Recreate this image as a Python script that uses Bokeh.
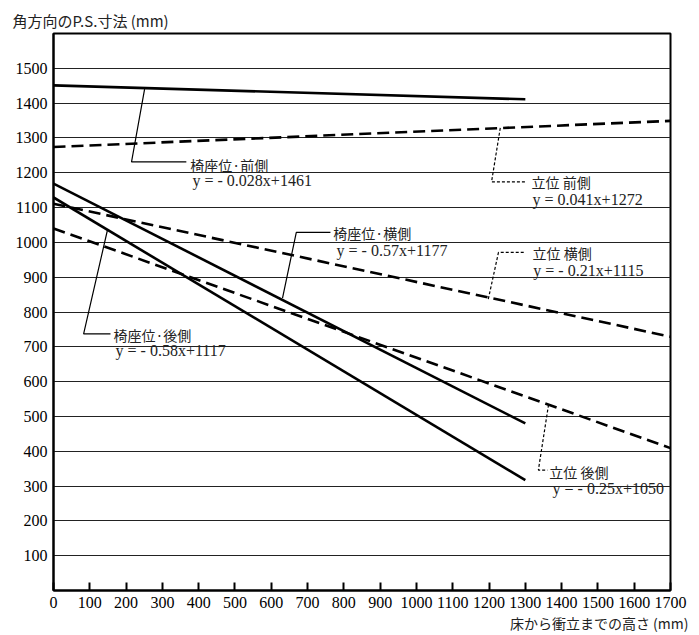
from bokeh.plotting import figure
from bokeh.models import Range1d, FixedTicker, Title, LinearAxis
from bokeh.core.properties import value
from bokeh.embed import file_html
from bokeh.resources import INLINE

# ---- data ----
x_sit = [0, 1300]
sit_front = [1451, 1411]
sit_side = [1169, 480]
sit_back = [1129, 317]

x_stand = [0, 1700]
stand_front = [1274, 1349]
stand_side = [1111, 729]
stand_back = [1040, 409]

x_ticks = [0, 100, 200, 300, 400, 500, 600, 700, 800, 900, 1000, 1100, 1200, 1300, 1400, 1500, 1600, 1700]
y_ticks = [100, 200, 300, 400, 500, 600, 700, 800, 900, 1000, 1100, 1200, 1300, 1400, 1500]

names = ["椅座位·前側", "立位 前側", "椅座位·横側", "立位 横側", "椅座位·後側", "立位 後側"]
equations = ["y = - 0.028x+1461", "y = 0.041x+1272", "y = - 0.57x+1177",
             "y = - 0.21x+1115", "y = - 0.58x+1117", "y = - 0.25x+1050"]

y_title = "角方向のP.S.寸法 (mm)"
x_title = "床から衝立までの高さ (mm)"

# ---- annotation geometry ----
leaders = [
    ([251, 215, 366], [1440, 1231, 1231], "solid"),
    ([1231, 1207, 1303], [1329, 1174, 1174], "dashed"),
    ([631, 669, 763], [840, 1029, 1029], "solid"),
    ([1198, 1226, 1298], [837, 971, 971], "dashed"),
    ([149, 83, 157], [1037, 737, 737], "solid"),
    ([1364, 1336, 1361], [534, 346, 346], "dashed"),
]
name_pos = [(377, 1223), (1317, 1174), (771, 1026), (1320, 969), (165, 734), (1366, 340)]
eq_pos = [(383, 1177), (1320, 1123), (780, 977), (1322, 920), (171, 689), (1375, 294)]

SERIF = "'Liberation Serif', 'Times New Roman', serif"
SANS = "'Noto Sans CJK JP', sans-serif"

p = figure(width=691, height=632, output_backend="svg", toolbar_location=None,
           x_range=Range1d(0, 1700), y_range=Range1d(0, 1600),
           x_axis_location=None, y_axis_location=None,
           min_border_left=53, min_border_right=21, min_border_top=33, min_border_bottom=40)

p.background_fill_color = "white"
p.border_fill_color = "white"
p.outline_line_color = "black"
p.outline_line_width = 2

xaxis = LinearAxis(ticker=FixedTicker(ticks=x_ticks))
yaxis = LinearAxis(ticker=FixedTicker(ticks=y_ticks))
for ax in (xaxis, yaxis):
    ax.axis_line_color = "black"
    ax.axis_line_width = 2
    ax.major_tick_line_color = "black"
    ax.major_tick_line_width = 2
    ax.minor_tick_line_color = None
    ax.major_label_text_font = "Times"
    ax.major_label_text_font_size = "16px"
    ax.major_label_text_color = "black"
    ax.major_label_standoff = 6
xaxis.major_tick_in = 8
xaxis.major_tick_out = 0
yaxis.major_tick_in = 0
yaxis.major_tick_out = 0
p.add_layout(xaxis, "below")
p.add_layout(yaxis, "left")

p.xgrid.visible = False
p.ygrid.ticker = FixedTicker(ticks=y_ticks)
p.ygrid.grid_line_color = "#222222"
p.ygrid.grid_line_width = 1

# data lines
lw = 2.6
p.line(x_sit, sit_front, line_color="black", line_width=lw)
p.line(x_sit, sit_side, line_color="black", line_width=lw)
p.line(x_sit, sit_back, line_color="black", line_width=lw)
p.line(x_stand, stand_front, line_color="black", line_width=lw, line_dash="12 6")
p.line(x_stand, stand_side, line_color="black", line_width=lw, line_dash="12 6")
p.line(x_stand, stand_back, line_color="black", line_width=lw, line_dash="12 6")

# leaders and labels
for (lx, ly, style), nm, eq, (nx, ny), (ex, ey) in zip(leaders, names, equations, name_pos, eq_pos):
    p.line(lx, ly, line_color="black", line_width=1.2,
           line_dash="solid" if style == "solid" else "3 2")
    p.text(x=[nx], y=[ny], text=[nm], text_font=value(SANS),
           text_font_size="14px", text_color="#222222", text_align="left", text_baseline="middle")
    p.text(x=[ex], y=[ey], text=[eq], text_font=value(SERIF),
           text_font_size="16px", text_color="#222222", text_align="left", text_baseline="middle")

# axis titles as Title panels
p.add_layout(Title(text=y_title, align="left", offset=-41, standoff=6,
                   text_font=SANS, text_font_size="15px", text_font_style="normal",
                   text_color="#222222"), "above")
p.add_layout(Title(text=x_title, align="right", offset=-18, standoff=0,
                   text_font=SANS, text_font_size="14px", text_font_style="normal",
                   text_color="#222222"), "below")

open("out.html", "w").write(file_html(p, INLINE))
